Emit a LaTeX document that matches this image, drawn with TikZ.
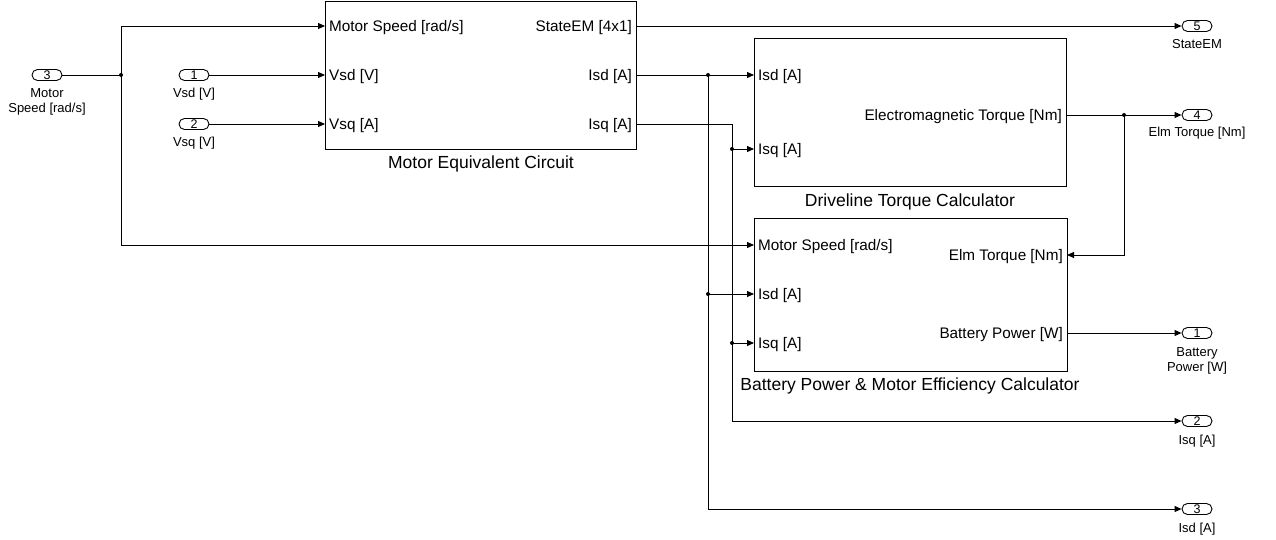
\documentclass[tikz,border=0pt]{standalone}
\usepackage{fontspec}
\setmainfont{Liberation Sans}
\usetikzlibrary{arrows.meta,shapes.misc}
\begin{document}
\begin{tikzpicture}[x=1pt,y=-1pt,
 blk/.style={draw, line width=1.1pt, inner sep=0},
 lbl/.style={font=\fontsize{15.3}{17}\selectfont, inner sep=0},
 ttl/.style={font=\fontsize{17.5}{19}\selectfont, inner sep=0, anchor=base},
 plab/.style={font=\fontsize{13}{15}\selectfont, inner sep=0, align=center, anchor=base},
 port/.style={draw, rounded rectangle, minimum width=30pt, minimum height=11pt, inner sep=0, font=\fontsize{12.5}{12.5}\selectfont, line width=0.9pt},
 sig/.style={line width=0.9pt, -{Triangle[length=7pt,width=6pt]}},
 wire/.style={line width=0.9pt},
 dot/.style={circle, fill, inner sep=0, minimum size=4pt}]
\useasboundingbox (0,0) rectangle (1276,540);

% blocks
\node[blk, anchor=north west, minimum width=311pt, minimum height=148pt] (mec) at (325,1) {};
\node[blk, anchor=north west, minimum width=312pt, minimum height=148pt] (dtc) at (754,38) {};
\node[blk, anchor=north west, minimum width=313pt, minimum height=153pt] (bpc) at (754,218) {};

\node[ttl] (mect) at (481,168) {Motor Equivalent Circuit};
\node[ttl] (dtct) at (910,206) {Driveline Torque Calculator};
\node[ttl] (bpct) at (910,390) {Battery Power \& Motor Efficiency Calculator};

% port coordinates
\coordinate (mecI1) at (325,26);
\coordinate (mecI2) at (325,75);
\coordinate (mecI3) at (325,124);
\coordinate (mecO1) at (636,26);
\coordinate (mecO2) at (636,75);
\coordinate (mecO3) at (636,124);
\coordinate (dtcI1) at (754,75);
\coordinate (dtcI2) at (754,149);
\coordinate (dtcO1) at (1066,115);
\coordinate (bpcI1) at (754,245);
\coordinate (bpcI2) at (754,294);
\coordinate (bpcI3) at (754,343);
\coordinate (bpcR) at (1067,255);
\coordinate (bpcO1) at (1067,333);

% port labels (baseline = port y + 5.5)
\node[lbl, anchor=base west] (l1) at (329,31.5) {Motor Speed [rad/s]};
\node[lbl, anchor=base west] (l2) at (329,80.5) {Vsd [V]};
\node[lbl, anchor=base west] (l3) at (329,129.5) {Vsq [A]};
\node[lbl, anchor=base east] (l4) at (632,31.5) {StateEM [4x1]};
\node[lbl, anchor=base east] (l5) at (632,80.5) {Isd [A]};
\node[lbl, anchor=base east] (l6) at (632,129.5) {Isq [A]};
\node[lbl, anchor=base west] (l7) at (758,80.5) {Isd [A]};
\node[lbl, anchor=base west] (l8) at (758,154.5) {Isq [A]};
\node[lbl, anchor=base east] (l9) at (1062,120.5) {Electromagnetic Torque [Nm]};
\node[lbl, anchor=base west] (l10) at (758,250.5) {Motor Speed [rad/s]};
\node[lbl, anchor=base west] (l11) at (758,299.5) {Isd [A]};
\node[lbl, anchor=base west] (l12) at (758,348.5) {Isq [A]};
\node[lbl, anchor=base east] (l13) at (1063,260.5) {Elm Torque [Nm]};
\node[lbl, anchor=base east] (l14) at (1063,338.5) {Battery Power [W]};

% inports
\node[port] (i3) at (47,75) {3};
\node[plab] (i3l) at (47,113) {Motor\\Speed [rad/s]};
\node[port] (i1) at (194,75) {1};
\node[plab] (i1l) at (194,98) {Vsd [V]};
\node[port] (i2) at (194,124) {2};
\node[plab] (i2l) at (194,147) {Vsq [V]};

% outports
\node[port] (o5) at (1197,26) {5};
\node[plab] (o5l) at (1197,49) {StateEM};
\node[port] (o4) at (1197,115) {4};
\node[plab] (o4l) at (1197,137) {Elm Torque [Nm]};
\node[port] (o1) at (1197,333) {1};
\node[plab] (o1l) at (1197,371) {Battery\\Power [W]};
\node[port] (o2) at (1197,421) {2};
\node[plab] (o2l) at (1197,444) {Isq [A]};
\node[port] (o3) at (1197,509) {3};
\node[plab] (o3l) at (1197,532) {Isd [A]};

% branch points
\coordinate (bA) at (121,75);
\coordinate (bB) at (708,75);
\coordinate (bC) at (708,294);
\coordinate (bD) at (732,149);
\coordinate (bE) at (732,343);
\coordinate (bF) at (1124,115);

% wires
\draw[wire] (i3.east) -- (bA);
\draw[sig] (bA) |- (mecI1);
\draw[sig] (bA) |- (bpcI1);
\draw[sig] (i1.east) -- (mecI2);
\draw[sig] (i2.east) -- (mecI3);
\draw[sig] (mecO1) -- (o5.west);
\draw[sig] (mecO2) -- (dtcI1);
\draw[sig] (bB) |- (o3.west);
\draw[sig] (bC) -- (bpcI2);
\draw[wire] (mecO3) -| (bD);
\draw[sig] (bD) -- (dtcI2);
\draw[sig] (bD) |- (o2.west);
\draw[sig] (bE) -- (bpcI3);
\draw[sig] (dtcO1) -- (o4.west);
\draw[sig] (bF) |- (bpcR);
\draw[sig] (bpcO1) -- (o1.west);

\foreach \p in {bA,bB,bC,bD,bE,bF} \node[dot] at (\p) {};
\end{tikzpicture}
\end{document}
